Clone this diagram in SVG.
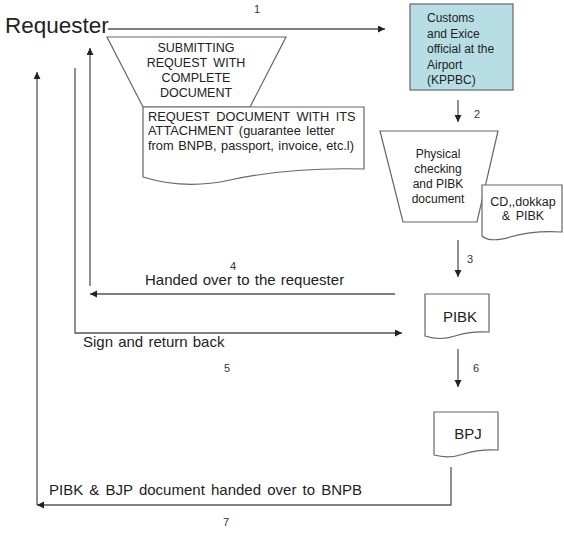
<svg xmlns="http://www.w3.org/2000/svg" width="564" height="533" viewBox="0 0 564 533">
<defs>
<marker id="ah" markerUnits="userSpaceOnUse" markerWidth="8" markerHeight="8" refX="7" refY="3.5" orient="auto">
<path d="M0,0 L7,3.5 L0,7 Z" fill="#222"/>
</marker>
</defs>
<style>
text{font-family:"Liberation Sans",Arial,sans-serif;fill:#222}
.shape{fill:#fff;stroke:#666;stroke-width:1.2}
.conn{fill:none;stroke:#555;stroke-width:1.3}
.t12{font-size:12px}
.t125{font-size:12.5px}
.t15{font-size:15px}
.num{font-size:11px;fill:#333}
.c{text-anchor:middle}
</style>
<rect width="564" height="533" fill="#fff"/>
<g id="requester"><text x="5" y="33" font-size="22.5">Requester</text></g>
<g id="submit">
<path class="shape" d="M107,37 H286 L250,107 H143 Z"/>
<text class="t125 c" x="196" y="52">SUBMITTING</text>
<text class="t125 c" x="196" y="67" word-spacing="3">REQUEST WITH</text>
<text class="t125 c" x="196" y="82">COMPLETE</text>
<text class="t125 c" x="196" y="97">DOCUMENT</text>
</g>
<g id="request-doc">
<path class="shape" d="M143,107 H364 V169 Q290,167 230,180 Q185,190 143,177 Z"/>
<text font-size="12.8" x="148" y="121" word-spacing="3">REQUEST DOCUMENT WITH ITS</text>
<text font-size="12.8" x="148" y="135" word-spacing="2">ATTACHMENT (guarantee letter</text>
<text font-size="12.8" x="148" y="150" word-spacing="1">from BNPB, passport, invoice, etc.l)</text>
</g>
<g id="customs">
<rect x="410" y="4" width="103" height="86" fill="#b8dee5" stroke="#666" stroke-width="1.2"/>
<text class="t12" x="427" y="22">Customs</text>
<text class="t12" x="427" y="37.5">and Exice</text>
<text class="t12" x="427" y="53">official at the</text>
<text class="t12" x="427" y="68.5">Airport</text>
<text class="t12" x="427" y="84">(KPPBC)</text>
</g>
<g id="physical">
<path class="shape" d="M380,131 H498 L477,222 H403 Z"/>
<text class="t12 c" x="438" y="158">Physical</text>
<text class="t12 c" x="438" y="173">checking</text>
<text class="t12 c" x="438" y="188">and PIBK</text>
<text class="t12 c" x="438" y="203">document</text>
</g>
<g id="cd-doc">
<path class="shape" d="M482,185 H562 V232 Q535,230 510,237 Q490,243 482,236 Z"/>
<text class="t125 c" x="523" y="206">CD,,dokkap</text>
<text class="t125 c" x="523" y="220" word-spacing="2">&amp; PIBK</text>
</g>
<g id="pibk">
<path class="shape" d="M425,294 H489 V332 Q470,331 455,336 Q440,341 425,336 Z"/>
<text class="t15 c" x="460" y="322">PIBK</text>
</g>
<g id="bpj">
<path class="shape" d="M434,412 H498 V450 Q479,449 464,454 Q449,459 434,455 Z"/>
<text class="t15 c" x="468" y="439">BPJ</text>
</g>
<g id="connectors">
<path class="conn" d="M108,29 H385" marker-end="url(#ah)"/>
<path class="conn" d="M458,100 V122" marker-end="url(#ah)"/>
<path class="conn" d="M458,240 V277" marker-end="url(#ah)"/>
<path class="conn" d="M395,294 H90" marker-end="url(#ah)"/>
<path class="conn" d="M90,286 V48" marker-end="url(#ah)"/>
<path class="conn" d="M75,68 V333 H402" marker-end="url(#ah)"/>
<path class="conn" d="M458,349 V387" marker-end="url(#ah)"/>
<path class="conn" d="M451,467 V505 H37" marker-end="url(#ah)"/>
<path class="conn" d="M37,505 V72" marker-end="url(#ah)"/>
</g>
<g id="labels">
<text class="num" x="254" y="13">1</text>
<text class="num" x="474" y="118">2</text>
<text class="num" x="467" y="263">3</text>
<text class="num" x="230" y="270">4</text>
<text class="num" x="224" y="372">5</text>
<text class="num" x="473" y="372">6</text>
<text class="num" x="223" y="526">7</text>
<text class="t15" x="145" y="285" word-spacing="1">Handed over to the requester</text>
<text class="t15" x="83" y="347" word-spacing="1">Sign and return back</text>
<text class="t15" x="49" y="495" word-spacing="2">PIBK &amp; BJP document handed over to BNPB</text>
</g>
</svg>
